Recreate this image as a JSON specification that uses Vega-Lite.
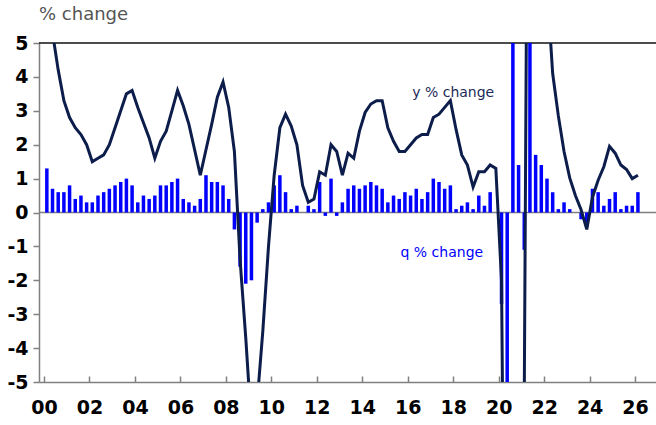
{
  "$schema": "https://vega.github.io/schema/vega-lite/v6.json",
  "width": 617,
  "height": 339,
  "autosize": {"type": "none"},
  "padding": {"left": 39, "top": 43, "right": 0, "bottom": 43},
  "background": "white",
  "title": {"text": "% change", "anchor": "start", "frame": "group", "fontSize": 18, "font": "DejaVu Sans", "fontWeight": "normal", "color": "#555555", "offset": 10},
  "config": {
    "view": {"stroke": null},
    "text": {"font": "DejaVu Sans"},
    "axisX": {
      "labelFont": "DejaVu Sans", "labelFontSize": 19, "labelFontWeight": "bold", "labelColor": "#000000",
      "labelFlush": false, "labelOverlap": false,
      "tickSize": -6, "tickWidth": 1.5, "tickColor": "#808080",
      "domainColor": "#808080", "domainWidth": 1.5,
      "labelPadding": 22, "grid": false
    },
    "axisY": {
      "labelFont": "DejaVu Sans", "labelFontSize": 19, "labelFontWeight": "bold", "labelColor": "#000000",
      "labelOverlap": false,
      "tickSize": 6, "tickWidth": 1.5, "tickColor": "#808080",
      "domainColor": "#808080", "domainWidth": 1.5,
      "labelPadding": 5, "grid": false
    }
  },
  "datasets": {
    "gdp": [
      {"q": "2000Q1", "t": 2000.125, "qoq": 1.3, "yoy": 5.8},
      {"q": "2000Q2", "t": 2000.375, "qoq": 0.7, "yoy": 5.3},
      {"q": "2000Q3", "t": 2000.625, "qoq": 0.6, "yoy": 4.2},
      {"q": "2000Q4", "t": 2000.875, "qoq": 0.6, "yoy": 3.3},
      {"q": "2001Q1", "t": 2001.125, "qoq": 0.8, "yoy": 2.8},
      {"q": "2001Q2", "t": 2001.375, "qoq": 0.4, "yoy": 2.5},
      {"q": "2001Q3", "t": 2001.625, "qoq": 0.5, "yoy": 2.3},
      {"q": "2001Q4", "t": 2001.875, "qoq": 0.3, "yoy": 2.0},
      {"q": "2002Q1", "t": 2002.125, "qoq": 0.3, "yoy": 1.5},
      {"q": "2002Q2", "t": 2002.375, "qoq": 0.5, "yoy": 1.6},
      {"q": "2002Q3", "t": 2002.625, "qoq": 0.6, "yoy": 1.7},
      {"q": "2002Q4", "t": 2002.875, "qoq": 0.7, "yoy": 2.0},
      {"q": "2003Q1", "t": 2003.125, "qoq": 0.8, "yoy": 2.5},
      {"q": "2003Q2", "t": 2003.375, "qoq": 0.9, "yoy": 3.0},
      {"q": "2003Q3", "t": 2003.625, "qoq": 1.0, "yoy": 3.5},
      {"q": "2003Q4", "t": 2003.875, "qoq": 0.8, "yoy": 3.6},
      {"q": "2004Q1", "t": 2004.125, "qoq": 0.3, "yoy": 3.1},
      {"q": "2004Q2", "t": 2004.375, "qoq": 0.5, "yoy": 2.65},
      {"q": "2004Q3", "t": 2004.625, "qoq": 0.4, "yoy": 2.2},
      {"q": "2004Q4", "t": 2004.875, "qoq": 0.5, "yoy": 1.6},
      {"q": "2005Q1", "t": 2005.125, "qoq": 0.8, "yoy": 2.1},
      {"q": "2005Q2", "t": 2005.375, "qoq": 0.8, "yoy": 2.4},
      {"q": "2005Q3", "t": 2005.625, "qoq": 0.9, "yoy": 3.0},
      {"q": "2005Q4", "t": 2005.875, "qoq": 1.0, "yoy": 3.6},
      {"q": "2006Q1", "t": 2006.125, "qoq": 0.4, "yoy": 3.15},
      {"q": "2006Q2", "t": 2006.375, "qoq": 0.3, "yoy": 2.6},
      {"q": "2006Q3", "t": 2006.625, "qoq": 0.2, "yoy": 1.85},
      {"q": "2006Q4", "t": 2006.875, "qoq": 0.4, "yoy": 1.1},
      {"q": "2007Q1", "t": 2007.125, "qoq": 1.1, "yoy": 1.85},
      {"q": "2007Q2", "t": 2007.375, "qoq": 0.9, "yoy": 2.6},
      {"q": "2007Q3", "t": 2007.625, "qoq": 0.9, "yoy": 3.4},
      {"q": "2007Q4", "t": 2007.875, "qoq": 0.8, "yoy": 3.85},
      {"q": "2008Q1", "t": 2008.125, "qoq": 0.4, "yoy": 3.1},
      {"q": "2008Q2", "t": 2008.375, "qoq": -0.5, "yoy": 1.8},
      {"q": "2008Q3", "t": 2008.625, "qoq": -1.6, "yoy": -1.4},
      {"q": "2008Q4", "t": 2008.875, "qoq": -2.1, "yoy": -3.7},
      {"q": "2009Q1", "t": 2009.125, "qoq": -2.0, "yoy": -6.3},
      {"q": "2009Q2", "t": 2009.375, "qoq": -0.3, "yoy": -5.6},
      {"q": "2009Q3", "t": 2009.625, "qoq": 0.1, "yoy": -3.5},
      {"q": "2009Q4", "t": 2009.875, "qoq": 0.3, "yoy": -1.0},
      {"q": "2010Q1", "t": 2010.125, "qoq": 0.8, "yoy": 1.1},
      {"q": "2010Q2", "t": 2010.375, "qoq": 1.1, "yoy": 2.5},
      {"q": "2010Q3", "t": 2010.625, "qoq": 0.6, "yoy": 2.9},
      {"q": "2010Q4", "t": 2010.875, "qoq": 0.1, "yoy": 2.55},
      {"q": "2011Q1", "t": 2011.125, "qoq": 0.2, "yoy": 2.0},
      {"q": "2011Q2", "t": 2011.375, "qoq": 0.0, "yoy": 0.8},
      {"q": "2011Q3", "t": 2011.625, "qoq": 0.2, "yoy": 0.3},
      {"q": "2011Q4", "t": 2011.875, "qoq": 0.1, "yoy": 0.4},
      {"q": "2012Q1", "t": 2012.125, "qoq": 0.9, "yoy": 1.2},
      {"q": "2012Q2", "t": 2012.375, "qoq": -0.1, "yoy": 1.1},
      {"q": "2012Q3", "t": 2012.625, "qoq": 1.0, "yoy": 2.0},
      {"q": "2012Q4", "t": 2012.875, "qoq": -0.1, "yoy": 1.8},
      {"q": "2013Q1", "t": 2013.125, "qoq": 0.3, "yoy": 1.1},
      {"q": "2013Q2", "t": 2013.375, "qoq": 0.7, "yoy": 1.75},
      {"q": "2013Q3", "t": 2013.625, "qoq": 0.8, "yoy": 1.6},
      {"q": "2013Q4", "t": 2013.875, "qoq": 0.7, "yoy": 2.4},
      {"q": "2014Q1", "t": 2014.125, "qoq": 0.8, "yoy": 2.95},
      {"q": "2014Q2", "t": 2014.375, "qoq": 0.9, "yoy": 3.2},
      {"q": "2014Q3", "t": 2014.625, "qoq": 0.8, "yoy": 3.3},
      {"q": "2014Q4", "t": 2014.875, "qoq": 0.7, "yoy": 3.3},
      {"q": "2015Q1", "t": 2015.125, "qoq": 0.3, "yoy": 2.5},
      {"q": "2015Q2", "t": 2015.375, "qoq": 0.5, "yoy": 2.1},
      {"q": "2015Q3", "t": 2015.625, "qoq": 0.4, "yoy": 1.8},
      {"q": "2015Q4", "t": 2015.875, "qoq": 0.6, "yoy": 1.8},
      {"q": "2016Q1", "t": 2016.125, "qoq": 0.5, "yoy": 2.0},
      {"q": "2016Q2", "t": 2016.375, "qoq": 0.7, "yoy": 2.2},
      {"q": "2016Q3", "t": 2016.625, "qoq": 0.4, "yoy": 2.3},
      {"q": "2016Q4", "t": 2016.875, "qoq": 0.6, "yoy": 2.3},
      {"q": "2017Q1", "t": 2017.125, "qoq": 1.0, "yoy": 2.8},
      {"q": "2017Q2", "t": 2017.375, "qoq": 0.9, "yoy": 2.9},
      {"q": "2017Q3", "t": 2017.625, "qoq": 0.7, "yoy": 3.1},
      {"q": "2017Q4", "t": 2017.875, "qoq": 0.8, "yoy": 3.3},
      {"q": "2018Q1", "t": 2018.125, "qoq": 0.1, "yoy": 2.45},
      {"q": "2018Q2", "t": 2018.375, "qoq": 0.2, "yoy": 1.7},
      {"q": "2018Q3", "t": 2018.625, "qoq": 0.3, "yoy": 1.4},
      {"q": "2018Q4", "t": 2018.875, "qoq": 0.1, "yoy": 0.75},
      {"q": "2019Q1", "t": 2019.125, "qoq": 0.5, "yoy": 1.2},
      {"q": "2019Q2", "t": 2019.375, "qoq": 0.2, "yoy": 1.2},
      {"q": "2019Q3", "t": 2019.625, "qoq": 0.6, "yoy": 1.4},
      {"q": "2019Q4", "t": 2019.875, "qoq": 0.0, "yoy": 1.3},
      {"q": "2020Q1", "t": 2020.125, "qoq": -2.7, "yoy": -2.0},
      {"q": "2020Q2", "t": 2020.375, "qoq": -20.3, "yoy": -21.0},
      {"q": "2020Q3", "t": 2020.625, "qoq": 16.8, "yoy": -8.0},
      {"q": "2020Q4", "t": 2020.875, "qoq": 1.4, "yoy": -6.5},
      {"q": "2021Q1", "t": 2021.125, "qoq": -1.1, "yoy": -5.5},
      {"q": "2021Q2", "t": 2021.375, "qoq": 5.6, "yoy": 24.0},
      {"q": "2021Q3", "t": 2021.625, "qoq": 1.7, "yoy": 7.5},
      {"q": "2021Q4", "t": 2021.875, "qoq": 1.4, "yoy": 8.5},
      {"q": "2022Q1", "t": 2022.125, "qoq": 1.0, "yoy": 6.7},
      {"q": "2022Q2", "t": 2022.375, "qoq": 0.6, "yoy": 4.1},
      {"q": "2022Q3", "t": 2022.625, "qoq": 0.1, "yoy": 2.85},
      {"q": "2022Q4", "t": 2022.875, "qoq": 0.3, "yoy": 1.8},
      {"q": "2023Q1", "t": 2023.125, "qoq": 0.1, "yoy": 1.02},
      {"q": "2023Q2", "t": 2023.375, "qoq": 0.0, "yoy": 0.5},
      {"q": "2023Q3", "t": 2023.625, "qoq": -0.2, "yoy": 0.08},
      {"q": "2023Q4", "t": 2023.875, "qoq": -0.3, "yoy": -0.5},
      {"q": "2024Q1", "t": 2024.125, "qoq": 0.7, "yoy": 0.45},
      {"q": "2024Q2", "t": 2024.375, "qoq": 0.6, "yoy": 0.95},
      {"q": "2024Q3", "t": 2024.625, "qoq": 0.2, "yoy": 1.35},
      {"q": "2024Q4", "t": 2024.875, "qoq": 0.4, "yoy": 1.95},
      {"q": "2025Q1", "t": 2025.125, "qoq": 0.6, "yoy": 1.75},
      {"q": "2025Q2", "t": 2025.375, "qoq": 0.1, "yoy": 1.4},
      {"q": "2025Q3", "t": 2025.625, "qoq": 0.2, "yoy": 1.27},
      {"q": "2025Q4", "t": 2025.875, "qoq": 0.2, "yoy": 1.0},
      {"q": "2026Q1", "t": 2026.125, "qoq": 0.6, "yoy": 1.1}
    ],
    "labels": [
      {"label": "y % change", "t": 2018.0, "v": 3.42, "series": "y"},
      {"label": "q % change", "t": 2017.5, "v": -1.32, "series": "q"}
    ]
  },
  "layer": [
    {
      "data": {"values": [{"z": 0}]},
      "mark": {"type": "rule", "color": "#808080", "strokeWidth": 1.5},
      "encoding": {
        "y": {"field": "z", "type": "quantitative", "scale": {"domain": [-5, 5], "nice": false, "zero": false},
          "axis": {"values": [-5, -4, -3, -2, -1, 0, 1, 2, 3, 4, 5], "labelExpr": "'' + datum.value", "title": null}}
      }
    },
    {
      "data": {"values": [{"z": 5}]},
      "mark": {"type": "rule", "color": "#111111", "strokeWidth": 1.5},
      "encoding": {
        "y": {"field": "z", "type": "quantitative", "scale": {"domain": [-5, 5], "nice": false, "zero": false},
          "axis": {"values": [-5, -4, -3, -2, -1, 0, 1, 2, 3, 4, 5], "labelExpr": "'' + datum.value", "title": null}}
      }
    },
    {
      "data": {"name": "gdp"},
      "mark": {"type": "bar", "color": "#0000ff", "size": 3.5, "clip": true},
      "encoding": {
        "x": {
          "field": "t", "type": "quantitative",
          "scale": {"domain": [2000, 2026.7], "nice": false, "zero": false},
          "axis": {
            "values": [2000, 2002, 2004, 2006, 2008, 2010, 2012, 2014, 2016, 2018, 2020, 2022, 2024, 2026],
            "labelExpr": "(datum.value % 100 < 10 ? '0' : '') + (datum.value % 100)",
            "title": null
          }
        },
        "y": {
          "field": "qoq", "type": "quantitative",
          "scale": {"domain": [-5, 5], "nice": false, "zero": false},
          "axis": {"values": [-5, -4, -3, -2, -1, 0, 1, 2, 3, 4, 5], "labelExpr": "'' + datum.value", "title": null}
        }
      }
    },
    {
      "data": {"name": "gdp"},
      "mark": {"type": "line", "color": "#0c1d4b", "strokeWidth": 3, "clip": true},
      "encoding": {
        "x": {
          "field": "t", "type": "quantitative",
          "scale": {"domain": [2000, 2026.7], "nice": false, "zero": false},
          "axis": {
            "values": [2000, 2002, 2004, 2006, 2008, 2010, 2012, 2014, 2016, 2018, 2020, 2022, 2024, 2026],
            "labelExpr": "(datum.value % 100 < 10 ? '0' : '') + (datum.value % 100)",
            "title": null
          }
        },
        "y": {
          "field": "yoy", "type": "quantitative",
          "scale": {"domain": [-5, 5], "nice": false, "zero": false},
          "axis": {"values": [-5, -4, -3, -2, -1, 0, 1, 2, 3, 4, 5], "labelExpr": "'' + datum.value", "title": null}
        }
      }
    },
    {
      "data": {"name": "labels"},
      "mark": {"type": "text", "font": "DejaVu Sans", "fontSize": 14, "align": "center", "baseline": "alphabetic"},
      "encoding": {
        "x": {
          "field": "t", "type": "quantitative",
          "scale": {"domain": [2000, 2026.7], "nice": false, "zero": false},
          "axis": {
            "values": [2000, 2002, 2004, 2006, 2008, 2010, 2012, 2014, 2016, 2018, 2020, 2022, 2024, 2026],
            "labelExpr": "(datum.value % 100 < 10 ? '0' : '') + (datum.value % 100)",
            "title": null
          }
        },
        "y": {
          "field": "v", "type": "quantitative",
          "scale": {"domain": [-5, 5], "nice": false, "zero": false},
          "axis": {"values": [-5, -4, -3, -2, -1, 0, 1, 2, 3, 4, 5], "labelExpr": "'' + datum.value", "title": null}
        },
        "text": {"field": "label"},
        "color": {"field": "series", "type": "nominal", "scale": {"domain": ["y", "q"], "range": ["#1c2a57", "#0000ff"]}, "legend": null}
      }
    }
  ]
}
